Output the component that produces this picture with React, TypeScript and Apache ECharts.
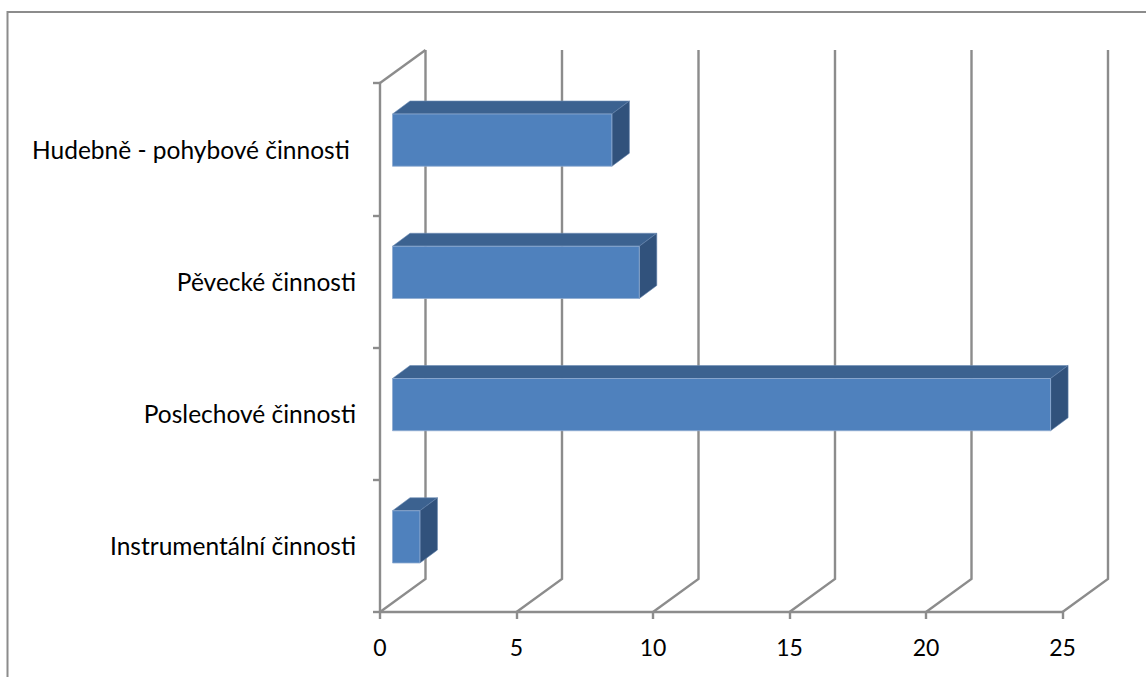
import React, { useEffect, useRef } from "react";
import * as echarts from "echarts";

const categories = ["Instrumentální činnosti", "Poslechové činnosti", "Pěvecké činnosti", "Hudebně - pohybové činnosti\u00a0"];
const values = [1, 24, 9, 8];
const xTicks = [0, 5, 10, 15, 20, 25];

const WALL_DX = 45.5;
const WALL_DY = -33;
const BAR_DX = 12.5;
const BAR_DY = -9;
const DEPTH_DX = 17.5;
const DEPTH_DY = -13;
const BAR_PERSPECTIVE = 1.0044;
const GREY = "#8c8c8c";
const LINE_W = 2.4;

export default function App() {
  const ref = useRef<HTMLDivElement>(null);
  useEffect(() => {
    document.body.style.margin = "0";
    const chart = echarts.init(ref.current!, undefined, { renderer: "svg" });
    chart.setOption({
      animation: false,
      backgroundColor: "#fff",
      graphic: [
        {
          type: "polyline",
          silent: true,
          shape: { points: [[7.5, 677], [7.5, 12], [1146, 12]] },
          style: { fill: "none", stroke: GREY, lineWidth: 2 },
        },
      ],
      grid: { left: 380, right: 83.5, top: 83, bottom: 65 },
      xAxis: {
        type: "value",
        min: 0,
        max: 25,
        interval: 5,
        splitLine: { show: false },
        axisLine: { show: true, lineStyle: { color: GREY, width: LINE_W } },
        axisTick: { show: true, length: 7, lineStyle: { color: GREY, width: LINE_W } },
        axisLabel: { color: "#000", fontFamily: "Lato", fontSize: 23, margin: 23 },
      },
      yAxis: {
        type: "category",
        data: categories,
        splitLine: { show: false },
        axisLine: { show: true, lineStyle: { color: GREY, width: LINE_W } },
        axisTick: { show: true, length: 7, lineStyle: { color: GREY, width: LINE_W } },
        axisLabel: { color: "#000", fontFamily: "Lato", fontSize: 24.5, margin: 24 },
      },
      series: [
        {
          type: "custom",
          coordinateSystem: "cartesian2d",
          z: 1,
          data: xTicks.map((t) => [t]),
          encode: { x: 0 },
          clip: false,
          renderItem: (_p: any, api: any) => {
            const [x] = api.coord([api.value(0), 0]);
            const floorY = _p.coordSys.y + _p.coordSys.height;
            const topY = _p.coordSys.y;
            const pts = [
              [x, floorY],
              [x + WALL_DX, floorY + WALL_DY],
              [x + WALL_DX, topY + WALL_DY],
            ];
            const children: any[] = [
              { type: "polyline", shape: { points: pts }, style: { fill: "none", stroke: GREY, lineWidth: LINE_W } },
            ];
            if (api.value(0) === 0) {
              children.push({
                type: "line",
                shape: { x1: x, y1: topY, x2: x + WALL_DX, y2: topY + WALL_DY },
                style: { stroke: GREY, lineWidth: LINE_W },
              });
            }
            return { type: "group", children };
          },
        },
        {
          type: "custom",
          coordinateSystem: "cartesian2d",
          z: 3,
          data: categories.map((c, i) => [values[i], c]),
          encode: { x: 0, y: 1 },
          clip: false,
          renderItem: (_p: any, api: any) => {
            const end = api.coord([api.value(0), _p.dataIndex]);
            const start = api.coord([0, _p.dataIndex]);
            const h = api.size([0, 1])[1] * 0.395;
            const x0 = start[0] + BAR_DX;
            const x1 = x0 + (end[0] - start[0]) * BAR_PERSPECTIVE;
            const y0 = start[1] + BAR_DY - h / 2;
            const y1 = y0 + h;
            return {
              type: "group",
              children: [
                {
                  type: "polygon",
                  shape: { points: [[x0, y0], [x0 + DEPTH_DX, y0 + DEPTH_DY], [x1 + DEPTH_DX, y0 + DEPTH_DY], [x1, y0]] },
                  style: { fill: "#3c6290", stroke: "#6d8db5", lineWidth: 0.6 },
                },
                {
                  type: "polygon",
                  shape: { points: [[x1, y0], [x1 + DEPTH_DX, y0 + DEPTH_DY], [x1 + DEPTH_DX, y1 + DEPTH_DY], [x1, y1]] },
                  style: { fill: "#31527c", stroke: "#5f80aa", lineWidth: 0.6 },
                },
                {
                  type: "rect",
                  shape: { x: x0, y: y0, width: x1 - x0, height: h },
                  style: { fill: "#4f81bd", stroke: "#8fabd0", lineWidth: 0.8 },
                },
              ],
            };
          },
        },
      ],
    });
    return () => chart.dispose();
  }, []);
  return <div ref={ref} style={{ width: 1146, height: 677 }} />;
}
